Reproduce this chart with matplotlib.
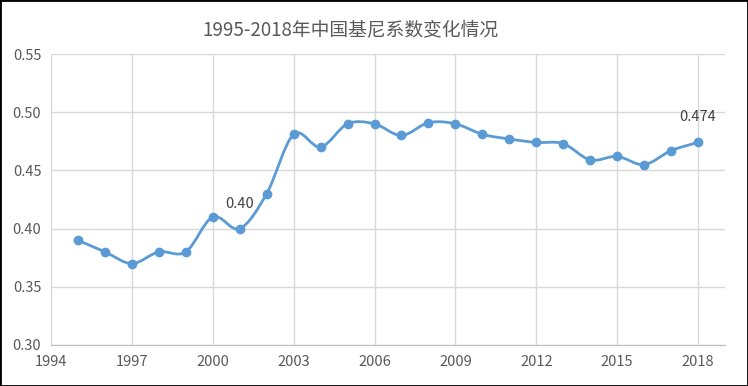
import matplotlib
matplotlib.use("Agg")
import matplotlib.pyplot as plt
from matplotlib.path import Path
from matplotlib.patches import PathPatch, Rectangle

plt.rcParams['font.family'] = ['Noto Sans CJK SC', 'DejaVu Sans']

# data
years = [1995, 1996, 1997, 1998, 1999, 2000, 2001, 2002, 2003, 2004, 2005, 2006,
         2007, 2008, 2009, 2010, 2011, 2012, 2013, 2014, 2015, 2016, 2017, 2018]
gini = [0.39, 0.38, 0.37, 0.38, 0.38, 0.41, 0.40, 0.43, 0.481, 0.47, 0.49, 0.49,
        0.48, 0.491, 0.49, 0.481, 0.477, 0.474, 0.473, 0.459, 0.462, 0.455, 0.467, 0.474]
x_ticks = [1994, 1997, 2000, 2003, 2006, 2009, 2012, 2015, 2018]
y_ticks = [0.30, 0.35, 0.40, 0.45, 0.50, 0.55]
title = "1995-2018年中国基尼系数变化情况"
labels = {2001: "0.40", 2018: "0.474"}

blue = "#5B9BD5"
grey_txt = "#595959"

fig = plt.figure(figsize=(7.48, 3.86), dpi=100)
ax = fig.add_axes([51 / 748, 41 / 386, 674 / 748, 291 / 386])

# smoothed line like excel (catmull-rom as bezier segments)
verts = [(years[0], gini[0])]
codes = [Path.MOVETO]
n = len(years)
for i in range(n - 1):
    x0, y0 = (years[i - 1], gini[i - 1]) if i > 0 else (years[i], gini[i])
    x1, y1 = years[i], gini[i]
    x2, y2 = years[i + 1], gini[i + 1]
    x3, y3 = (years[i + 2], gini[i + 2]) if i + 2 < n else (x2, y2)
    c1 = (x1 + (x2 - x0) / 6, y1 + (y2 - y0) / 6)
    c2 = (x2 - (x3 - x1) / 6, y2 - (y3 - y1) / 6)
    verts += [c1, c2, (x2, y2)]
    codes += [Path.CURVE4] * 3
ax.add_patch(PathPatch(Path(verts, codes), facecolor="none", edgecolor=blue,
                       lw=2.0, capstyle="round", joinstyle="round", zorder=3))
ax.plot(years, gini, ls="none", marker="o", ms=6, color=blue, zorder=4)

for yr, txt in labels.items():
    v = gini[years.index(yr)]
    ax.annotate(txt, (yr, v), xytext=(0, 13), textcoords="offset points",
                ha="center", va="bottom", fontsize=10.5, color="#404040")

ax.set_xlim(1994, 2019)
ax.set_ylim(0.30, 0.55)
ax.set_xticks(x_ticks)
ax.set_yticks(y_ticks)
ax.set_yticklabels([f"{v:.2f}" for v in y_ticks])
ax.tick_params(length=0, labelsize=10.5, colors=grey_txt, pad=7)
ax.grid(True, color="#D9D9D9", lw=1)
ax.set_axisbelow(True)
for s in ["left", "right", "top"]:
    ax.spines[s].set_visible(False)
ax.spines["bottom"].set_color("#BFBFBF")

fig.text(350 / 748, 1 - 31 / 386, title, ha="center", va="center",
         fontsize=13.5, color=grey_txt)

fig.patches.append(Rectangle((0, 0), 1, 1, transform=fig.transFigure,
                             fill=False, edgecolor="black", lw=2))

fig.savefig("out.png", dpi=100)
